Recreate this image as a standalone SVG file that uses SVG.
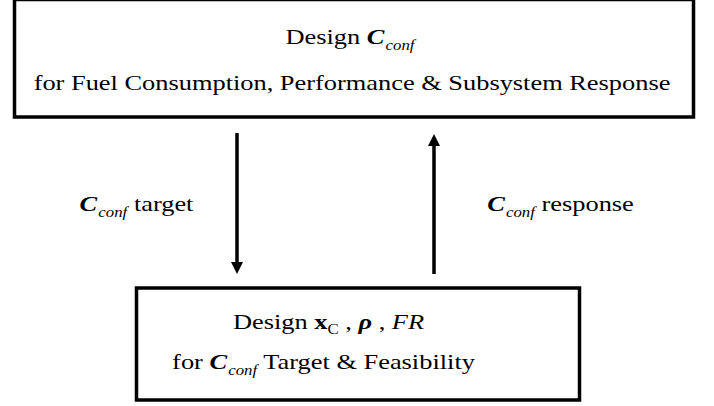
<svg xmlns="http://www.w3.org/2000/svg" width="714" height="406" viewBox="0 0 714 406">
  <style>
    .box { fill: #ffffff; stroke: #000000; stroke-width: 3.5; }
    .wire { stroke: #000000; stroke-width: 3.5; fill: none; }
    .t { font-family: "Liberation Serif", "Times New Roman", serif; font-size: 22px; fill: #000000; text-anchor: middle; }
    .bi { font-weight: bold; font-style: italic; }
    .it { font-style: italic; }
    .b { font-weight: bold; }
    .sub { font-size: 14px; font-style: italic; }
    .subr { font-size: 14px; }
  </style>
  <defs>
    <marker id="head" markerUnits="userSpaceOnUse" markerWidth="12" markerHeight="12" refX="0" refY="6" orient="auto">
      <path d="M0,0 L12,6 L0,12 z" fill="#000000"/>
    </marker>
  </defs>
  <rect width="714" height="406" fill="#ffffff"/>

  <!-- upper block: configuration design -->
  <g id="config-design">
    <rect class="box" x="14.5" y="-0.5" width="679" height="117.5"/>
    <text class="t" transform="translate(350 44) scale(1.2 1)">Design <tspan class="bi">C</tspan><tspan class="sub" dx="1" dy="6">conf</tspan></text>
    <text class="t" transform="translate(352 90) scale(1.2 1)">for Fuel Consumption, Performance &amp; Subsystem Response</text>
  </g>

  <!-- lower block: subsystem design -->
  <g id="subsystem-design">
    <rect class="box" x="136.5" y="288" width="443" height="112"/>
    <text class="t" transform="translate(328.5 329) scale(1.2 1)">Design <tspan class="b">x</tspan><tspan class="subr" dy="5">C</tspan><tspan dy="-5"> , </tspan><tspan class="bi">ρ</tspan> , <tspan class="it">FR</tspan></text>
    <text class="t" transform="translate(323.5 369) scale(1.2 1)">for <tspan class="bi">C</tspan><tspan class="sub" dx="1" dy="6">conf</tspan><tspan dy="-6"> Target &amp; Feasibility</tspan></text>
  </g>

  <!-- connectors between the blocks -->
  <g id="connectors">
    <line class="wire" x1="237" y1="133" x2="237" y2="262" marker-end="url(#head)"/>
    <line class="wire" x1="434" y1="274" x2="434" y2="146" marker-end="url(#head)"/>
  </g>

  <g id="labels">
    <text class="t" transform="translate(136.5 211) scale(1.2 1)"><tspan class="bi">C</tspan><tspan class="sub" dx="1" dy="6">conf</tspan><tspan dy="-6"> target</tspan></text>
    <text class="t" transform="translate(560.5 211) scale(1.2 1)"><tspan class="bi">C</tspan><tspan class="sub" dx="1" dy="6">conf</tspan><tspan dy="-6"> response</tspan></text>
  </g>
</svg>
